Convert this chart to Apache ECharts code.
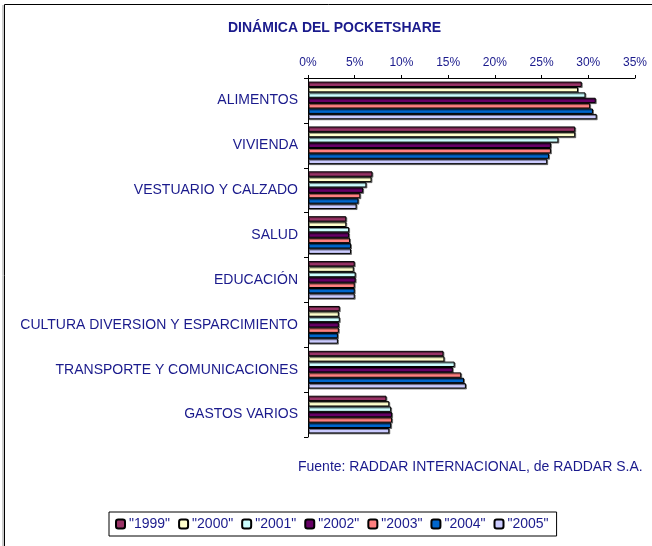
<!DOCTYPE html>
<html>
<head>
<meta charset="utf-8">
<script src="https://cdn.jsdelivr.net/npm/echarts@6/dist/echarts.min.js"></script>
<style>
    html, body { margin: 0; padding: 0; background: #fff; }
    #main { width: 652px; height: 546px; }
</style>
</head>
<body>
<div id="main"></div>
<script>
// categorias (de arriba hacia abajo)
var categories = ['ALIMENTOS', 'VIVIENDA', 'VESTUARIO Y CALZADO', 'SALUD', 'EDUCACIÓN',
    'CULTURA DIVERSION Y ESPARCIMIENTO', 'TRANSPORTE Y COMUNICACIONES', 'GASTOS VARIOS'];
var years = ['"1999"', '"2000"', '"2001"', '"2002"', '"2003"', '"2004"', '"2005"'];
var axisTicks = [0, 0.05, 0.10, 0.15, 0.20, 0.25, 0.30, 0.35];

// participacion por año (%)
var v1999 = [29.3, 28.6, 6.9, 4.1, 5.0, 3.4, 14.5, 8.4];
var v2000 = [28.9, 28.6, 6.8, 4.1, 4.9, 3.3, 14.6, 8.7];
var v2001 = [29.7, 26.8, 6.25, 4.4, 5.1, 3.4, 15.7, 8.9];
var v2002 = [30.8, 26.0, 5.9, 4.4, 5.1, 3.3, 15.5, 9.0];
var v2003 = [30.2, 26.0, 5.6, 4.5, 5.0, 3.3, 16.4, 9.0];
var v2004 = [30.5, 25.8, 5.4, 4.6, 5.0, 3.2, 16.7, 8.9];
var v2005 = [30.9, 25.6, 5.2, 4.6, 5.0, 3.2, 16.9, 8.7];

var values = [v1999, v2000, v2001, v2002, v2003, v2004, v2005];
var colors = ['#993366', '#FFFFCC', '#CCFFFF', '#660066', '#FF8080', '#0066CC', '#CCCCFF'];
var navy = '#1a1a8c';
var font = '"Liberation Sans", Arial, sans-serif';

var series = years.map(function (y, i) {
    return {
        name: y,
        type: 'bar',
        barGap: '0%',
        barCategoryGap: '16%',
        itemStyle: {
            color: colors[i],
            borderColor: '#000',
            borderWidth: 1,
            shadowColor: 'rgba(0,0,0,0.45)',
            shadowOffsetX: 1,
            shadowOffsetY: 1,
            shadowBlur: 0
        },
        data: values[i].map(function (v) { return v / 100; })
    };
});

var myChart = echarts.init(document.getElementById('main'));
var option = {
    animation: false,
    textStyle: { fontFamily: font },
    title: {
        text: 'DINÁMICA DEL POCKETSHARE',
        left: 223,
        top: 16,
        textStyle: { color: navy, fontSize: 14, fontWeight: 'bold', fontFamily: font }
    },
    grid: { left: 308, right: 17, top: 78, bottom: 109, containLabel: false },
    xAxis: {
        type: 'value',
        position: 'top',
        min: 0,
        max: 0.35,
        interval: 0.05,
        axisLine: { show: true, lineStyle: { color: '#000', width: 1 } },
        axisTick: { show: true, length: 3, lineStyle: { color: '#000' } },
        splitLine: { show: false },
        axisLabel: {
            color: navy,
            fontSize: 12,
            margin: 9,
            formatter: function (v) {
                var idx = axisTicks.findIndex(function (t) { return Math.abs(t - v) < 1e-9; });
                return Math.round(axisTicks[idx] * 100) + '%';
            }
        }
    },
    yAxis: {
        type: 'category',
        inverse: true,
        data: categories,
        axisLine: { show: true, lineStyle: { color: '#000', width: 1 } },
        axisTick: { show: true, length: 4, lineStyle: { color: '#000' } },
        axisLabel: { color: navy, fontSize: 14, margin: 10, padding: [7, 0, 0, 0] }
    },
    legend: {
        bottom: 10,
        left: 109,
        padding: [5, 8, 5, 6],
        borderColor: '#000',
        borderWidth: 1,
        itemWidth: 9,
        itemHeight: 9,
        itemGap: 8,
        textStyle: { color: navy, fontSize: 14, padding: [0, 0, 0, -1] },
        data: years
    },
    graphic: [
        {
            type: 'rect',
            silent: true,
            shape: { x: 4.5, y: 4.5, width: 700, height: 600 },
            style: { fill: 'none', stroke: '#000', lineWidth: 1 },
            z: -1
        },
        {
            type: 'line',
            silent: true,
            shape: { x1: 3, y1: 5, x2: 3, y2: 546 },
            style: { stroke: '#999', lineWidth: 1 },
            z: -1
        },
        {
            type: 'text',
            left: 298,
            top: 460,
            style: {
                text: 'Fuente: RADDAR INTERNACIONAL, de RADDAR S.A.',
                fill: navy,
                font: '14px ' + font
            }
        }
    ],
    series: series
};
myChart.setOption(option);
window.addEventListener('resize', function () { myChart.resize(); });
</script>
</body>
</html>
